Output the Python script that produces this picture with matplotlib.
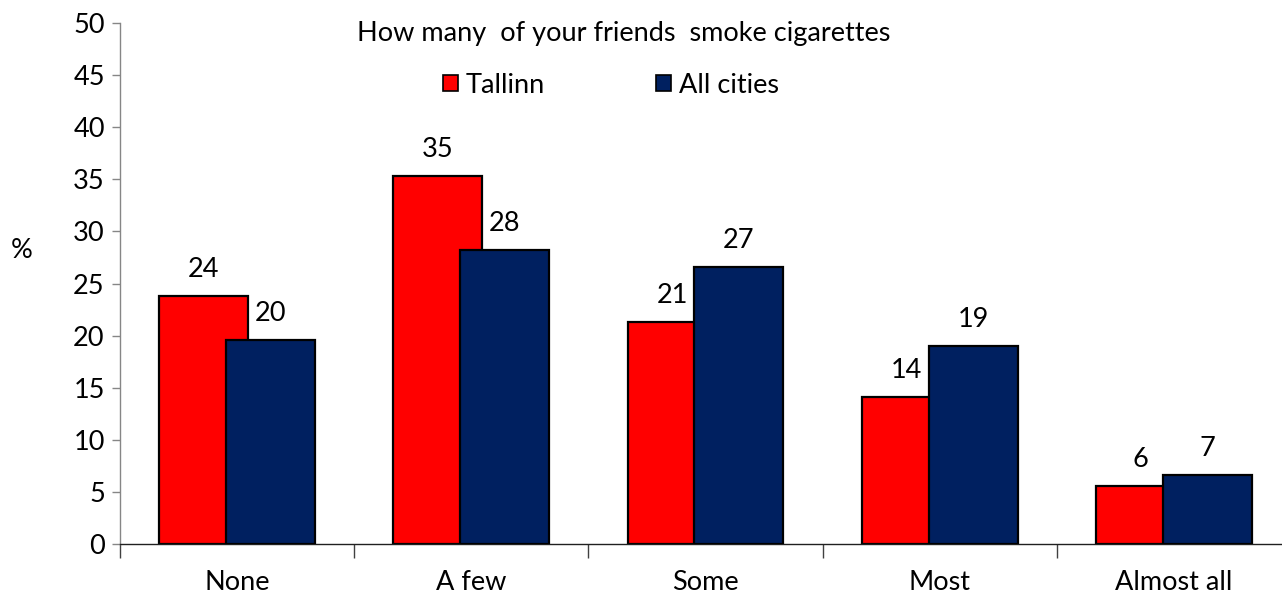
import matplotlib
matplotlib.use("Agg")
import matplotlib.pyplot as plt
from matplotlib.patches import Patch
import numpy as np

categories = ["None", "A few", "Some", "Most", "Almost all"]
tallinn = [23.8, 35.3, 21.3, 14.1, 5.6]
all_cities = [19.6, 28.2, 26.6, 19.0, 6.6]
tallinn_labels = ["24", "35", "21", "14", "6"]
all_labels = ["20", "28", "27", "19", "7"]
series_names = ["Tallinn", "All cities"]
title = "How many  of your friends  smoke cigarettes"

RED = "#FF0000"
NAVY = "#002060"
FS = 19.5

plt.rcParams['font.family'] = ['Lato', 'DejaVu Sans']
W, H = 1282, 594
fig = plt.figure(figsize=(W / 100, H / 100), dpi=100)
ax = fig.add_axes([120 / W, (H - 544) / H, 1171 / W, (544 - 23) / H])

x = np.arange(len(categories))
bw = 0.38
off = 0.143
ax.bar(x - off, tallinn, bw, color=RED, edgecolor="black", linewidth=1.6, zorder=2)
ax.bar(x + off, all_cities, bw, color=NAVY, edgecolor="black", linewidth=1.6, zorder=3)

for xi, v, lab in zip(x - off, tallinn, tallinn_labels):
    ax.annotate(lab, (xi, v), xytext=(0, 19), textcoords="offset pixels",
                ha="center", va="baseline", fontsize=FS)
for xi, v, lab in zip(x + off, all_cities, all_labels):
    ax.annotate(lab, (xi, v), xytext=(0, 19), textcoords="offset pixels",
                ha="center", va="baseline", fontsize=FS)

ax.set_xlim(-0.5, 4.5)
ax.set_ylim(0, 50)
ax.set_yticks(np.arange(0, 51, 5))
ax.tick_params(axis="y", labelsize=FS, length=6, width=1, color="#868686", pad=5)

ax.set_xticks(np.arange(-0.5, 4.6, 1))
ax.set_xticklabels([])
ax.set_xticks(x, minor=True)
ax.set_xticklabels(categories, minor=True)
ax.tick_params(axis="x", which="major", length=10, width=1, color="#404040")
ax.tick_params(axis="x", which="minor", length=0, labelsize=FS, pad=19)

for s in ["top", "right"]:
    ax.spines[s].set_visible(False)
ax.spines["left"].set_color("#868686")
ax.spines["bottom"].set_color("#202020")
ax.spines["left"].set_linewidth(1)
ax.spines["bottom"].set_linewidth(1)

fig.text(22 / W, 1 - 250 / H, "%", fontsize=FS, ha="center", va="center")
fig.text(624 / W, 1 - 33 / H, title, fontsize=FS, ha="center", va="center")

handles = [Patch(facecolor=RED, edgecolor="black", linewidth=1.2),
           Patch(facecolor=NAVY, edgecolor="black", linewidth=1.2)]
fig.legend(handles, series_names, loc="center", bbox_to_anchor=(611 / W, 1 - 85 / H),
           ncol=2, frameon=False, fontsize=FS, handlelength=0.55, handleheight=0.55,
           handletextpad=0.3, columnspacing=4.1)

fig.savefig("out.png", dpi=100)
